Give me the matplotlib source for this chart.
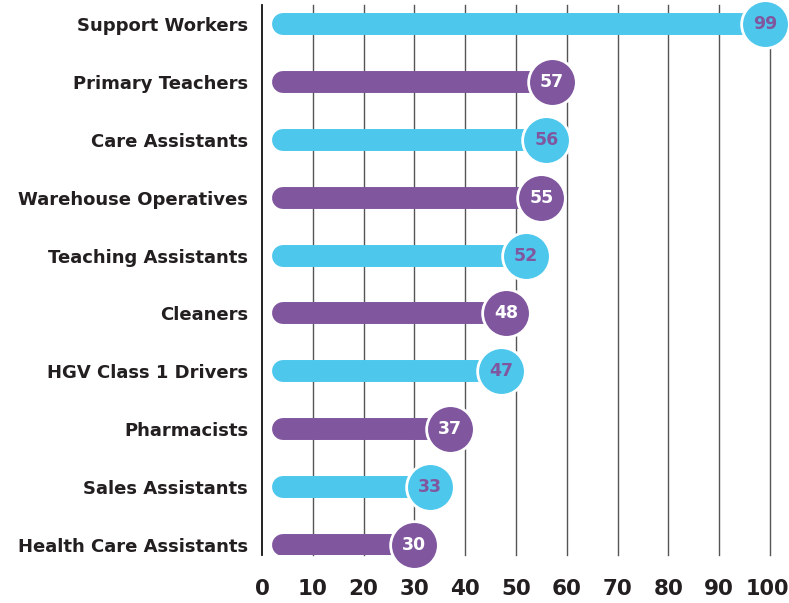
import matplotlib
matplotlib.use("Agg")
import matplotlib.pyplot as plt

categories = ["Support Workers", "Primary Teachers", "Care Assistants", "Warehouse Operatives",
              "Teaching Assistants", "Cleaners", "HGV Class 1 Drivers", "Pharmacists",
              "Sales Assistants", "Health Care Assistants"]
values = [99, 57, 56, 55, 52, 48, 47, 37, 33, 30]
xticks = [0, 10, 20, 30, 40, 50, 60, 70, 80, 90, 100]

CYAN = "#4dc8ec"
PURPLE = "#80579f"
TEXT = "#231f20"

fig = plt.figure(figsize=(7.89, 6.03), dpi=100)
ax = fig.add_axes([262/789, 48/603, 508/789, 550/603])
ax.set_xlim(0, 100)
ax.set_ylim(9.173, -0.328)

for x in xticks[1:]:
    ax.axvline(x, color="#555555", lw=1.0, zorder=1, clip_on=False)
ax.axvline(0, color="#111111", lw=1.3, zorder=1, clip_on=False)

for i, (cat, v) in enumerate(zip(categories, values)):
    col = CYAN if i % 2 == 0 else PURPLE
    tcol = PURPLE if i % 2 == 0 else "white"
    ax.plot([4.1, v], [i, i], color=col, lw=15.8, solid_capstyle="round", zorder=2)
    ax.scatter([v], [i], s=1180, color=col, edgecolors="white", linewidths=2, zorder=3, clip_on=False)
    ax.text(v, i, str(v), ha="center", va="center", color=tcol, fontsize=12.5,
            fontweight="bold", zorder=4)

ax.set_yticks(range(len(categories)))
ax.set_yticklabels(categories, fontsize=13, fontweight="bold", color=TEXT)
ax.set_xticks(xticks)
labels = [str(t) for t in xticks]
ax.set_xticklabels(labels[:-1] + [""], fontsize=15.5, fontweight="bold", color=TEXT)
# last label nudged inward so it stays inside the canvas
ax.annotate(labels[-1], xy=(xticks[-1], 0), xycoords=("data", "axes fraction"),
            xytext=(-3, -34), textcoords="offset pixels", ha="center", va="center",
            fontsize=15, fontweight="bold", color=TEXT, annotation_clip=False)
ax.tick_params(axis="both", length=0)
ax.tick_params(axis="x", pad=17)
ax.tick_params(axis="y", pad=10)
for s in ax.spines.values():
    s.set_visible(False)

fig.savefig("out.png", dpi=100)
